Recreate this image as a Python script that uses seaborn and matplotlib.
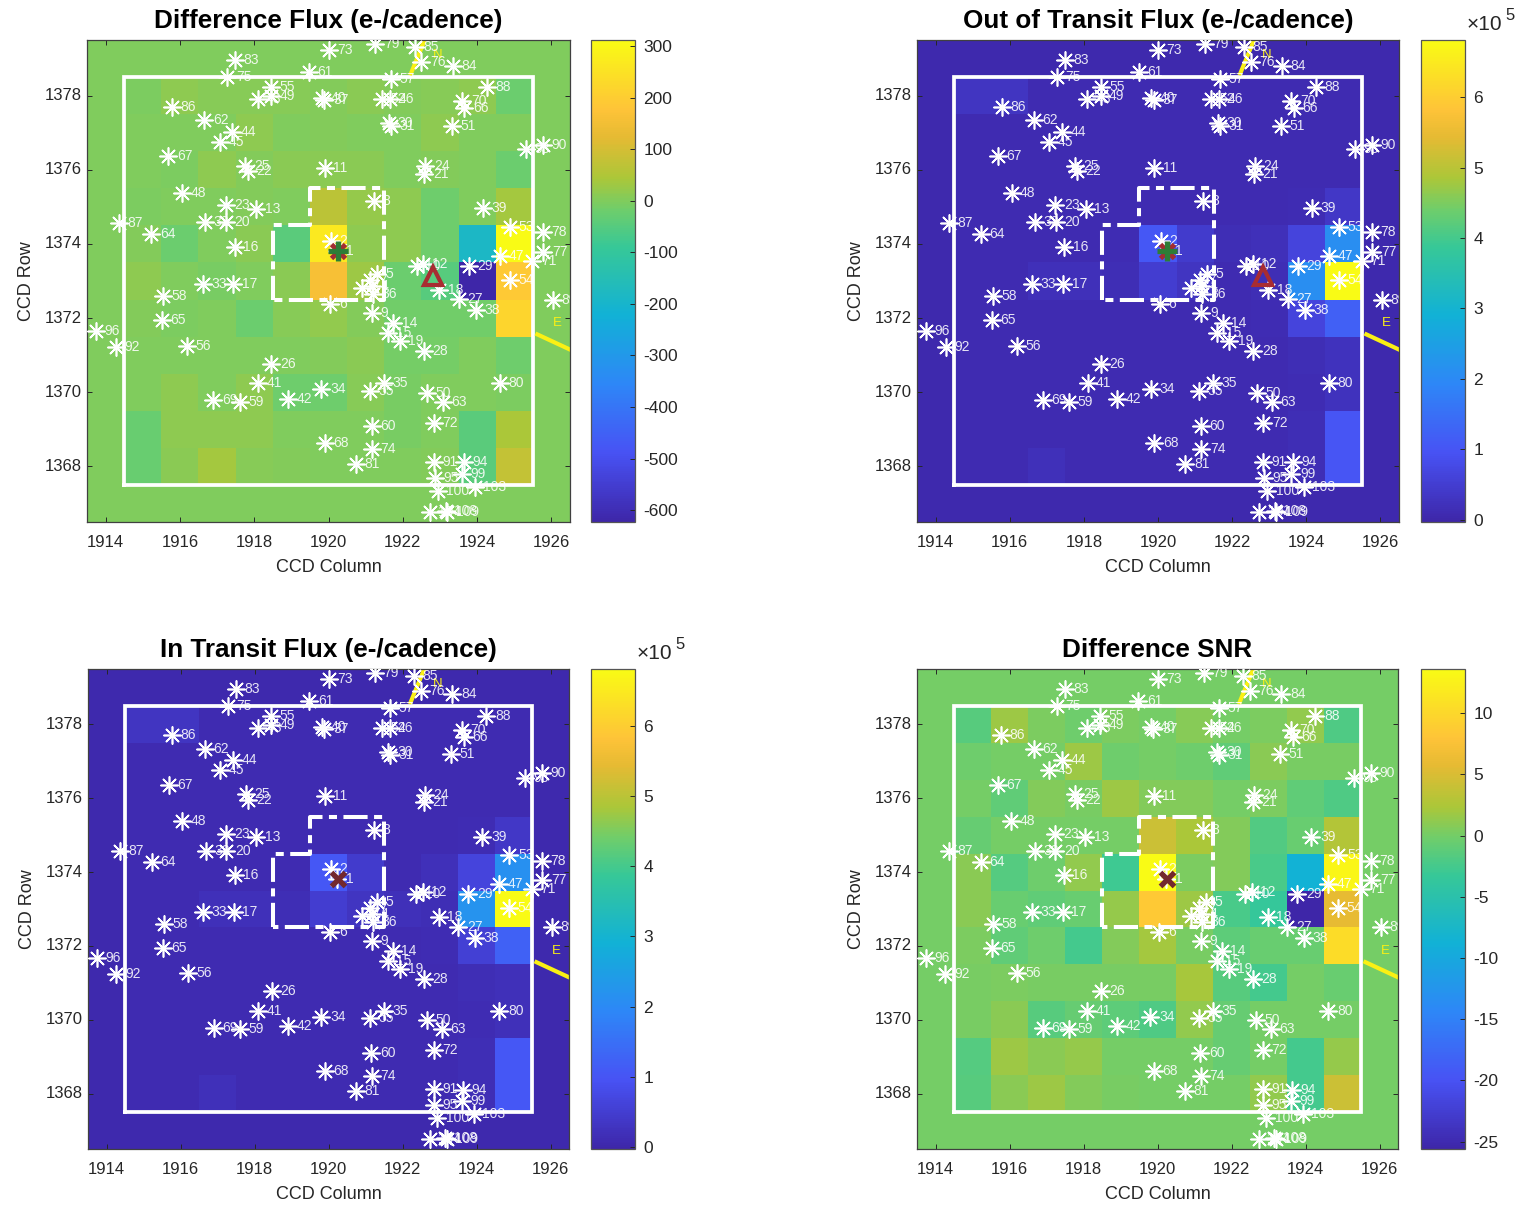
# -*- coding: utf-8 -*-
# Four pixel maps of the target aperture with the nearby stars on top
import numpy as np
import pandas as pd
import matplotlib
matplotlib.use('Agg')
import matplotlib.pyplot as plt
from matplotlib.colors import LinearSegmentedColormap
import seaborn as sns

plt.rcParams['font.family'] = ['Liberation Sans', 'DejaVu Sans']
plt.rcParams['axes.unicode_minus'] = False

# %% Data
columns = list(range(1914, 1927))
rows = list(range(1367, 1380))
col_ticks = [1914, 1916, 1918, 1920, 1922, 1924, 1926]
row_ticks = [1368, 1370, 1372, 1374, 1376, 1378]

# every grid: top row is 1378, left column is 1915
diff_flux = [
    [-3, 16, 6, 6, 6, 5, 12, 5, 6, 15, -22],
    [-1, -1, -1, 16, 0, 5, 0, 0, 14, -1, -1],
    [0, -3, 14, 3, 12, 9, 9, 0, 2, 0, -22],
    [-3, 0, 0, 3, 0, 65, 22, 16, -20, 0, 38],
    [3, -22, 0, 12, -45, 265, 14, 14, -18, -185, 312],
    [15, 0, -6, 0, 12, 162, 28, -22, -48, -623, 190],
    [3, -3, 0, -22, 6, 18, 3, -16, -16, -16, 220],
    [0, 0, 0, 0, 0, 3, 11, -12, -12, 0, -18],
    [0, 14, 0, 16, -20, -20, 8, -6, 0, 0, -3],
    [-25, 16, 16, 16, 0, 0, 0, -6, 0, -43, 43],
    [-25, 11, 35, 6, 3, 0, 0, 0, 3, -43, 78],
]
out_transit = [
    [.3, .3, .1, .1, .1, .1, .1, .1, .1, .1, .1],
    [.1, .1, .1, .1, .1, .1, .1, .1, .1, .1, .1],
    [.1, .1, .1, .1, .1, .1, .1, .1, .1, .1, .1],
    [.1, .1, .1, .1, .1, .1, .1, .1, .1, .12, .35],
    [.1, .1, .1, .1, .12, 1.05, .45, .15, .2, .65, 2.1],
    [.1, .1, .2, .2, .15, .5, .3, .1, .15, 2.1, 6.81],
    [.1, .1, .1, .1, .1, .1, .1, .1, .12, .65, 1.2],
    [.1, .1, .1, .1, .1, .1, .1, .1, .1, .15, .25],
    [.1, .1, .1, .1, .1, .1, .1, .1, .1, .12, .25],
    [.1, .1, .1, .1, .1, .1, .1, .1, .1, .15, 1.0],
    [.1, .1, .2, .1, .1, .1, .1, .1, .1, .15, 1.0],
]
in_transit = [
    [.3, .3, .1, .1, .1, .1, .1, .1, .1, .1, .1],
    [.1, .1, .1, .1, .1, .1, .1, .1, .1, .1, .1],
    [.1, .1, .1, .1, .1, .1, .1, .1, .1, .1, .1],
    [.1, .1, .1, .1, .1, .1, .1, .1, .1, .12, .35],
    [.1, .1, .1, .1, .1, 1.05, .45, .1, .2, .65, 2.15],
    [.1, .1, .2, .2, .15, .5, .3, .2, .15, 2.2, 6.81],
    [.1, .1, .1, .1, .1, .1, .1, .1, .12, .55, 1.25],
    [.1, .1, .1, .1, .1, .1, .1, .1, .1, .15, .2],
    [.1, .1, .1, .1, .1, .1, .1, .1, .1, .12, .2],
    [.1, .1, .1, .1, .1, .1, .1, .1, .1, .15, 1.05],
    [.1, .1, .2, .1, .1, .1, .1, .1, .1, .15, 1.05],
]
diff_snr = [
    [-1.5, 1.7, .4, -.2, .4, 0, .8, 0, .4, 1.2, -2],
    [-.2, 0, .1, 1.7, -.3, 0, -.3, -1, .9, .2, .2],
    [0, -1, .7, .2, 1.7, .7, .7, 0, .4, -1, -2],
    [-.7, 0, 0, 0, 0, 4.2, 2.3, .7, -1.8, -.5, 2.8],
    [.9, -1.6, -.2, 1.2, -2.9, 13.6, .4, .7, -2.2, -8.7, 13],
    [.9, -.5, -1, -.5, 1.4, 8.5, 1.7, -2.2, -3.5, -25.6, 5.8],
    [.4, -1, -.2, -2.5, .7, 2, .2, -1.2, -.5, -.5, 10.5],
    [.2, .4, .2, .2, .2, .2, 2.2, -1.5, -2.5, 0, -.5],
    [.2, .9, -1.5, -.7, -1.2, -2, 1.2, -.7, 0, 0, 0],
    [-1.7, 1.7, .9, 1.4, 0, 0, 0, -.7, 0, -2.5, 1.4],
    [-1.5, .9, 1.7, .7, .2, 0, 0, 0, 1.2, -2.5, 4.2],
]

panel_titles = ['Difference Flux (e-/cadence)', 'Out of Transit Flux (e-/cadence)',
                'In Transit Flux (e-/cadence)', 'Difference SNR']
panel_grids = [diff_flux, out_transit, in_transit, diff_snr]
panel_outside = [0, 0.03, 0.03, 0]
panel_limits = [(-623, 312), (-0.03, 6.81), (-0.03, 6.81), (-25.6, 13.6)]
panel_ticks = [[-600, -500, -400, -300, -200, -100, 0, 100, 200, 300],
               [0, 1, 2, 3, 4, 5, 6], [0, 1, 2, 3, 4, 5, 6],
               [-25, -20, -15, -10, -5, 0, 5, 10]]

star_labels = ['83', '75', '61', '73', '79', '85', '76', '84', '57', '55', '43', '49',
               '86', '40', '37', '46', '52', '70', '66', '88', '62', '44', '45', '67',
               '51', '30', '31', '90', '93', '25', '22', '11', '24', '21', '48', '23',
               '13', '32', '20', '87', '64', '16', '8', '39', '53', '78', '77', '47',
               '71', '2', '1', '10', '12', '29', '54', '18', '27', '38', '33', '17',
               '58', '65', '96', '92', '56', '6', '5', '7', '3', '4', '36', '9',
               '14', '15', '19', '28', '26', '41', '35', '80', '34', '55', '50', '63',
               '69', '59', '42', '72', '60', '68', '74', '81', '91', '94', '95', '99',
               '100', '103', '104', '108', '109', '89']
star_cols = [1917.49, 1917.28, 1919.48, 1920.00, 1921.26, 1922.32, 1922.50, 1923.35, 1921.67, 1918.45, 1918.09, 1918.45,
             1915.78, 1919.82, 1919.89, 1921.65, 1921.44, 1923.60, 1923.66, 1924.27, 1916.66, 1917.41, 1917.07, 1915.69,
             1923.32, 1921.62, 1921.67, 1925.78, 1925.31, 1917.76, 1917.82, 1919.90, 1922.61, 1922.58, 1916.05, 1917.23,
             1918.05, 1916.68, 1917.24, 1914.36, 1915.23, 1917.47, 1921.22, 1924.16, 1924.89, 1925.76, 1925.78, 1924.62,
             1925.49, 1920.07, 1920.23, 1922.37, 1922.55, 1923.78, 1924.88, 1922.98, 1923.51, 1923.97, 1916.61, 1917.44,
             1915.55, 1915.52, 1913.73, 1914.27, 1916.20, 1920.05, 1921.31, 1921.13, 1920.90, 1921.17, 1921.19, 1921.17,
             1921.74, 1921.60, 1921.92, 1922.57, 1918.46, 1918.10, 1921.49, 1924.62, 1919.81, 1921.11, 1922.66, 1923.07,
             1916.90, 1917.61, 1918.90, 1922.84, 1921.16, 1919.90, 1921.17, 1920.74, 1922.84, 1923.64, 1922.86, 1923.60,
             1922.94, 1923.93, 1922.73, 1923.15, 1923.19, 1926.05]
star_rows = [1378.96, 1378.51, 1378.63, 1379.23, 1379.39, 1379.32, 1378.90, 1378.81, 1378.44, 1378.22, 1377.90, 1377.99,
             1377.70, 1377.93, 1377.87, 1377.91, 1377.91, 1377.86, 1377.66, 1378.24, 1377.33, 1377.03, 1376.76, 1376.36,
             1377.19, 1377.26, 1377.17, 1376.67, 1376.56, 1376.11, 1375.96, 1376.05, 1376.09, 1375.89, 1375.37, 1375.04,
             1374.95, 1374.58, 1374.58, 1374.57, 1374.27, 1373.91, 1375.15, 1374.96, 1374.45, 1374.31, 1373.78, 1373.67,
             1373.53, 1374.07, 1373.80, 1373.40, 1373.46, 1373.40, 1373.04, 1372.77, 1372.52, 1372.21, 1372.92, 1372.92,
             1372.59, 1371.95, 1371.66, 1371.23, 1371.26, 1372.39, 1373.18, 1373.04, 1372.82, 1372.86, 1372.66, 1372.13,
             1371.87, 1371.59, 1371.38, 1371.11, 1370.77, 1370.24, 1370.24, 1370.24, 1370.08, 1370.04, 1369.99, 1369.74,
             1369.78, 1369.74, 1369.83, 1369.18, 1369.09, 1368.62, 1368.48, 1368.06, 1368.13, 1368.11, 1367.68, 1367.79,
             1367.33, 1367.44, 1366.78, 1366.81, 1366.76, 1372.50]

mask_cols = [1914.5, 1925.5, 1925.5, 1914.5, 1914.5]
mask_rows = [1367.5, 1367.5, 1378.5, 1378.5, 1367.5]
aperture_cols = [1918.5, 1918.5, 1919.5, 1919.5, 1921.5, 1921.5, 1918.5]
aperture_rows = [1372.5, 1374.5, 1374.5, 1375.5, 1375.5, 1372.5, 1372.5]
north_cols = [1922.22, 1922.65]
north_rows = [1378.60, 1379.65]
east_cols = [1925.62, 1926.48]
east_rows = [1371.56, 1371.16]
target_col, target_row = 1920.25, 1373.80
source_col, source_row = 1922.82, 1373.13

# %% Styling
W, H = 1519, 1206
parula = LinearSegmentedColormap.from_list('parula', [
    (0.0, (0.2422, 0.1504, 0.6603)), (0.143, (0.2810, 0.3228, 0.9579)),
    (0.286, (0.1786, 0.5289, 0.9682)), (0.429, (0.0689, 0.6948, 0.8394)),
    (0.571, (0.2161, 0.7843, 0.5923)), (0.65, (0.44, 0.805, 0.415)),
    (0.714, (0.672, 0.7793, 0.2227)), (0.80, (0.90, 0.73, 0.20)),
    (0.857, (0.997, 0.7659, 0.2199)), (1.0, (0.9769, 0.9839, 0.0805))])
axes_boxes = [(87, 40, 570, 522), (917, 40, 1399, 522), (88, 669, 569, 1149), (917, 669, 1398, 1149)]
cbar_boxes = [(591, 40, 635, 522), (1421, 40, 1465, 522), (591, 669, 635, 1149), (1421, 669, 1465, 1149)]
ink = '#262626'


def to_fig(box):
    left, top, right, bottom = box
    return [left / W, 1 - bottom / H, (right - left) / W, (bottom - top) / H]


def xpos(values):
    return np.asarray(values) - columns[0] + 0.5


def ypos(values):
    return np.asarray(values) - rows[0] + 0.5


def panel(fig, i):
    ax = fig.add_axes(to_fig(axes_boxes[i]))
    cax = fig.add_axes(to_fig(cbar_boxes[i]))
    grid = np.pad(np.flipud(np.array(panel_grids[i], dtype=float)), 1,
                  constant_values=panel_outside[i])
    table = pd.DataFrame(grid, index=rows, columns=columns)
    vmin, vmax = panel_limits[i]
    sns.heatmap(table, ax=ax, cbar_ax=cax, cmap=parula, vmin=vmin, vmax=vmax,
                cbar_kws={'ticks': panel_ticks[i]})
    ax.set_ylim(0, len(rows))

    # aperture outlines
    ax.plot(xpos(mask_cols), ypos(mask_rows), color='white', lw=2.7, solid_joinstyle='miter')
    ax.plot(xpos(aperture_cols), ypos(aperture_rows), color='white', lw=2.9,
            dashes=(6, 1.6, 2, 1.6), dash_capstyle='butt')

    # stars and their catalogue numbers
    sns.scatterplot(x=xpos(star_cols), y=ypos(star_rows), ax=ax, color='white',
                    marker=(8, 2, 0), s=150, linewidth=1.2, zorder=4)
    for col, row, label in zip(star_cols, star_rows, star_labels):
        ax.text(xpos(col + 0.23), ypos(row), label, color='white', alpha=0.88, fontsize=10,
                va='center', ha='left', clip_on=True, zorder=5)

    # compass
    ax.plot(xpos(north_cols), ypos(north_rows), color='#faf014', lw=3)
    ax.plot(xpos(east_cols), ypos(east_rows), color='#faf014', lw=3)
    ax.text(xpos(1922.94), ypos(1379.09), 'N', color='#faf014', fontsize=9.5, ha='center', va='center')
    ax.text(xpos(1926.16), ypos(1371.87), 'E', color='#faf014', fontsize=9.5, ha='center', va='center')

    # centroid markers, the two upper panels also show the fitted source
    if i < 2:
        ax.plot(xpos(source_col), ypos(source_row), marker='^', ms=13, mfc='none', mec='#a82c32',
                mew=3, ls='none', zorder=6)
        ax.plot(xpos(target_col), ypos(target_row), marker='x', ms=10, mec='#a32c32', mew=3.5,
                ls='none', zorder=6)
        ax.plot(xpos(target_col), ypos(target_row), marker='+', ms=14, mec='#2d7d37', mew=3.8,
                ls='none', zorder=7)
    else:
        ax.plot(xpos(target_col), ypos(target_row), marker='x', ms=10, mec='#73282e', mew=3.8,
                ls='none', zorder=6)

    ax.set_xticks(xpos(col_ticks), [str(c) for c in col_ticks], rotation=0)
    ax.set_yticks(ypos(row_ticks), [str(r) for r in row_ticks], rotation=0, va='center')
    ax.tick_params(direction='in', length=3.5, width=0.7, top=True, right=True, color=ink,
                   labelcolor=ink, labelsize=12)
    ax.tick_params(axis='x', pad=9.5)
    ax.tick_params(axis='y', pad=4)
    ax.set_xlabel('CCD Column', fontsize=13, color=ink, labelpad=6)
    ax.set_ylabel('CCD Row', fontsize=13, color=ink, labelpad=7)
    ax.set_title(panel_titles[i], fontsize=18.8, fontweight='bold', color='black', pad=8.4)
    for spine in ax.spines.values():
        spine.set_visible(True)
        spine.set_linewidth(0.9)
        spine.set_color('#404040')

    cbar = ax.collections[0].colorbar
    cbar.outline.set_linewidth(0.9)
    cbar.outline.set_edgecolor('#555555')
    cbar.ax.tick_params(direction='in', length=3.5, width=0.7, color=ink, labelcolor=ink,
                        labelsize=12.5, pad=6)

    if 1 <= i <= 2:
        right, top = cbar_boxes[i][2], cbar_boxes[i][1]
        fig.text((right + 2) / W, 1 - (top - 10) / H, '\u00d710', fontsize=15, color=ink,
                 ha='left', va='baseline')
        fig.text((right + 40) / W, 1 - (top - 20) / H, '5', fontsize=12, color=ink,
                 ha='left', va='baseline')


# %% Figure
fig = plt.figure(figsize=(W / 100, H / 100), dpi=100)
for i in range(4):
    panel(fig, i)
fig.savefig('out.png', dpi=100)
plt.close(fig)
